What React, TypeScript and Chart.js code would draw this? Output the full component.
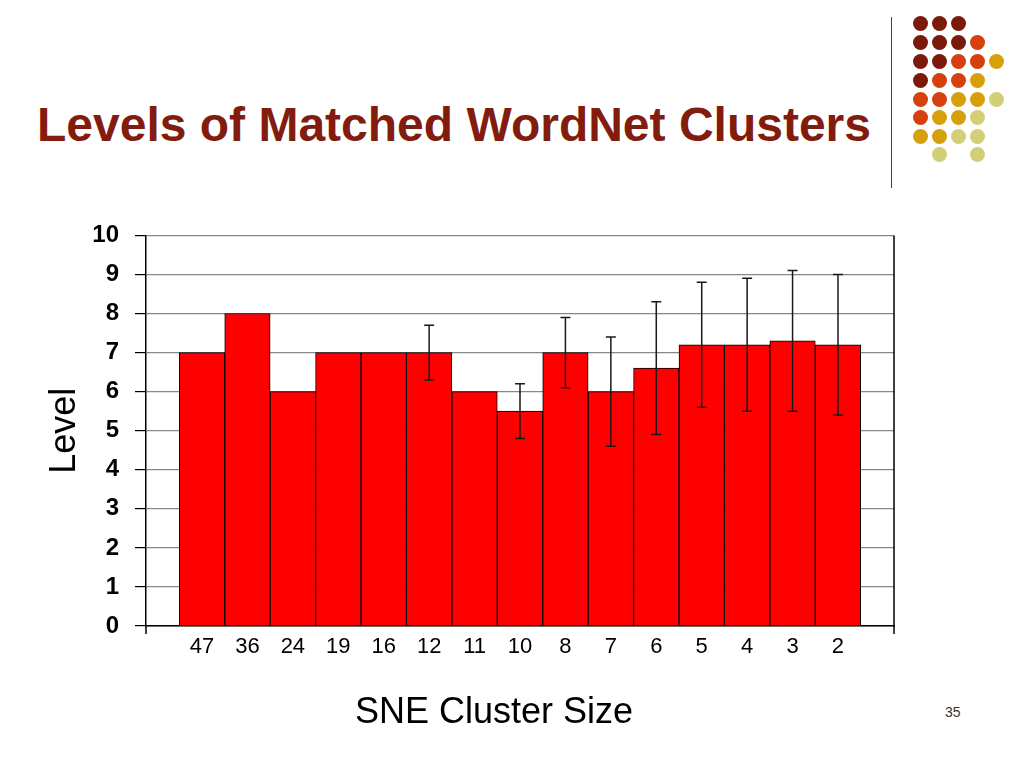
import React, { useEffect, useRef } from 'react';
import { Chart, registerables } from 'chart.js';

Chart.register(...registerables);

const clusterSizes = ['47', '36', '24', '19', '16', '12', '11', '10', '8', '7', '6', '5', '4', '3', '2'];
const levels = [7, 8, 6, 7, 7, 7, 6, 5.5, 7, 6, 6.6, 7.2, 7.2, 7.3, 7.2];
const errLow: (number | null)[] = [null, null, null, null, null, 6.3, null, 4.8, 6.1, 4.6, 4.9, 5.6, 5.5, 5.5, 5.4];
const errHigh: (number | null)[] = [null, null, null, null, null, 7.7, null, 6.2, 7.9, 7.4, 8.3, 8.8, 8.9, 9.1, 9.0];
const yMin = 0;
const yMax = 10;
const yStep = 1;

const titleText = 'Levels of Matched WordNet Clusters';
const xTitle = 'SNE Cluster Size';
const yTitle = 'Level';
const pageNumber = '35';

const DR = '#7b1a0a';
const OR = '#d6400e';
const GD = '#d6a00c';
const PL = '#d2cf77';
const dotGrid: (string | null)[][] = [
  [DR, DR, DR, null, null],
  [DR, DR, DR, OR, null],
  [DR, DR, OR, OR, GD],
  [DR, OR, OR, GD, null],
  [OR, OR, GD, GD, PL],
  [OR, GD, GD, PL, null],
  [GD, GD, PL, PL, null],
  [null, PL, null, PL, null],
];
const dotCols = [920, 939, 958, 977, 996];
const dotRows = [23, 42, 61, 80, 99, 117, 136, 154];

const FONT = '"Liberation Sans", Arial, Helvetica, sans-serif';

const errorBarPlugin = {
  id: 'errorBars',
  afterDatasetsDraw(chart: any) {
    const { ctx } = chart;
    const x = chart.scales.x;
    const y = chart.scales.y;
    ctx.save();
    ctx.strokeStyle = '#1a1a1a';
    ctx.lineWidth = 1.5;
    errLow.forEach((lo, i) => {
      const hi = errHigh[i];
      if (lo == null || hi == null) return;
      const px = x.getPixelForValue(i);
      const y1 = y.getPixelForValue(lo);
      const y2 = y.getPixelForValue(hi);
      ctx.beginPath();
      ctx.moveTo(px, y1);
      ctx.lineTo(px, y2);
      ctx.moveTo(px - 5, y1);
      ctx.lineTo(px + 5, y1);
      ctx.moveTo(px - 5, y2);
      ctx.lineTo(px + 5, y2);
      ctx.stroke();
    });
    ctx.restore();
  },
};

const framePlugin = {
  id: 'frame',
  afterDraw(chart: any) {
    const { ctx, chartArea } = chart;
    ctx.save();
    ctx.strokeStyle = '#000';
    ctx.lineWidth = 1.5;
    ctx.beginPath();
    ctx.moveTo(chartArea.right, chartArea.top);
    ctx.lineTo(chartArea.right, chartArea.bottom + 8);
    ctx.moveTo(chartArea.left, chartArea.bottom);
    ctx.lineTo(chartArea.left, chartArea.bottom + 8);
    ctx.stroke();
    ctx.restore();
  },
};

function BarChart() {
  const ref = useRef<HTMLCanvasElement>(null);
  useEffect(() => {
    if (!ref.current) return;
    const chart = new Chart(ref.current, {
      type: 'bar',
      data: {
        datasets: [
          {
            data: levels.map((v, i) => ({ x: i, y: v })),
            backgroundColor: '#ff0000',
            borderColor: '#000000',
            borderWidth: 1,
            barPercentage: 1,
            categoryPercentage: 1,
          } as any,
        ],
      },
      options: {
        responsive: false,
        animation: false,
        layout: { padding: { left: 0, right: 26, top: 12, bottom: 0 } },
        plugins: {
          legend: { display: false },
          tooltip: { enabled: false },
        },
        scales: {
          x: {
            type: 'linear',
            offset: false,
            min: -1.233,
            max: 15.233,
            grid: { display: false, offset: false },
            border: { display: true, color: '#000', width: 1.5 },
            afterBuildTicks: (scale: any) => {
              scale.ticks = clusterSizes.map((_, i) => ({ value: i }));
            },
            afterFit: (scale: any) => {
              scale.height = 109;
            },
            ticks: {
              autoSkip: false,
              maxRotation: 0,
              padding: 0,
              color: '#000',
              font: { family: FONT, size: 22 },
              callback: (_v: any, index: number) => clusterSizes[index],
            },
          },
          y: {
            min: yMin,
            max: yMax,
            afterFit: (scale: any) => {
              scale.width = 146;
            },
            ticks: {
              stepSize: yStep,
              padding: 16,
              color: '#000',
              font: { family: FONT, size: 24, weight: 'bold' },
            },
            grid: {
              color: '#888888',
              lineWidth: 1.2,
              tickColor: '#000',
              tickLength: 11,
            },
            border: { display: true, color: '#000', width: 1.5 },
            title: {
              display: true,
              text: yTitle,
              color: '#000',
              font: { family: FONT, size: 36 },
              padding: { top: 43, bottom: 0 },
            },
          },
        },
      },
      plugins: [errorBarPlugin, framePlugin],
    });
    return () => chart.destroy();
  }, []);
  return <canvas ref={ref} width={920} height={530} style={{ display: 'block' }} />;
}

export default function App() {
  return (
    <div
      style={{
        position: 'absolute',
        left: 0,
        top: 0,
        width: 1024,
        height: 768,
        background: '#fff',
        overflow: 'hidden',
        fontFamily: FONT,
      }}
    >
      <div
        style={{
          position: 'absolute',
          left: 37,
          top: 101,
          fontSize: 48,
          lineHeight: '48px',
          fontWeight: 'bold',
          color: '#821c0e',
          whiteSpace: 'nowrap',
        }}
      >
        {titleText}
      </div>
      <div
        style={{
          position: 'absolute',
          left: 891,
          top: 17,
          width: 1,
          height: 171,
          background: '#444',
        }}
      />
      {dotGrid.map((row, r) =>
        row.map((c, k) =>
          c ? (
            <div
              key={`${r}-${k}`}
              style={{
                position: 'absolute',
                left: dotCols[k] - 7.5,
                top: dotRows[r] - 7.5,
                width: 15,
                height: 15,
                borderRadius: '50%',
                background: c,
              }}
            />
          ) : null
        )
      )}
      <div style={{ position: 'absolute', left: 0, top: 205 }}>
        <BarChart />
      </div>
      <div
        style={{
          position: 'absolute',
          left: 294,
          width: 400,
          top: 690,
          textAlign: 'center',
          fontSize: 36,
          lineHeight: '42px',
          color: '#000',
          whiteSpace: 'nowrap',
        }}
      >
        {xTitle}
      </div>
      <div
        style={{
          position: 'absolute',
          left: 945,
          top: 704,
          fontSize: 14,
          lineHeight: '16px',
          color: '#333',
        }}
      >
        {pageNumber}
      </div>
    </div>
  );
}
